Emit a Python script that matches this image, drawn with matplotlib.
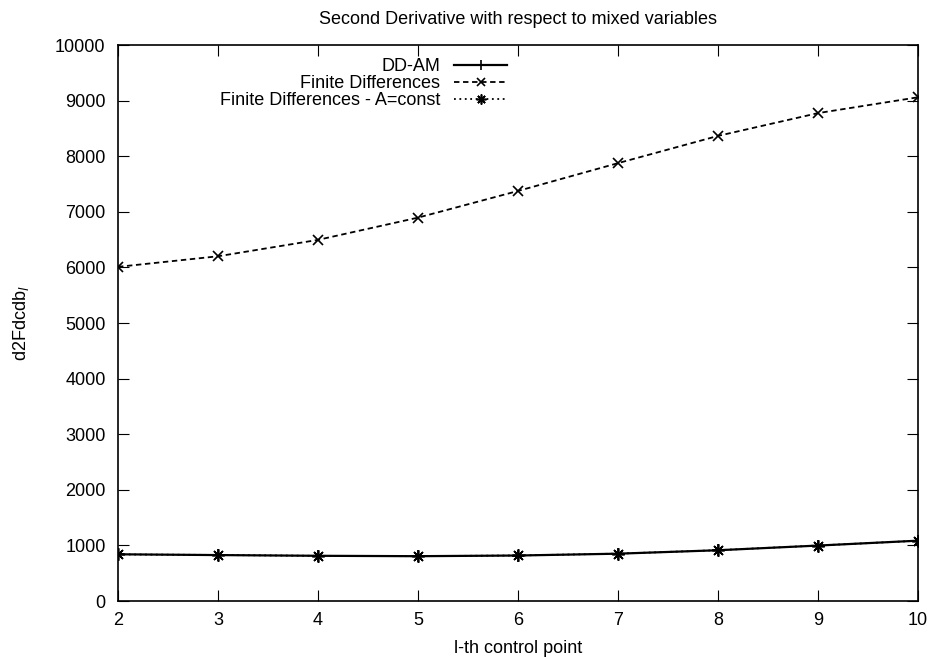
import numpy as np
import matplotlib.pyplot as plt

plt.rcParams['font.family'] = ['Liberation Sans', 'DejaVu Sans']

points = [2, 3, 4, 5, 6, 7, 8, 9, 10]
dd_am = [840, 826, 813, 806, 818, 851, 913, 997, 1085]
finite_diff = [6010, 6200, 6495, 6895, 7375, 7875, 8365, 8775, 9060]
finite_diff_const = [838, 828, 812, 806, 819, 852, 914, 998, 1084]

fig = plt.figure(figsize=(9.3, 6.59), dpi=100)
ax = fig.add_axes([118/930, 1 - 601/659, 800/930, 556/659])

ax.plot(points, dd_am, color='black', lw=1.6, marker='+', ms=9, mew=1.2, label='DD-AM')
ax.plot(points, finite_diff, color='black', lw=1.3, ls=(0, (3, 2)), marker='x', ms=7, mew=1.2,
        label='Finite Differences')
ax.plot(points, finite_diff_const, color='black', lw=1.3, ls=(0, (1, 2)), marker=(8, 2, 0), ms=9, mew=1.2,
        label='Finite Differences - A=const')

ax.set_xlim(2, 10)
ax.set_ylim(0, 10000)
ax.set_xticks(range(2, 11))
ax.set_yticks(range(0, 10001, 1000))
ax.tick_params(direction='in', top=True, right=True, length=8, labelsize=13)
ax.tick_params(axis='y', pad=9)
ax.tick_params(axis='x', pad=8)
for s in ax.spines.values():
    s.set_linewidth(1.2)

ax.set_title('Second Derivative with respect to mixed variables', fontsize=13, pad=14.8)
ax.set_xlabel('l-th control point', fontsize=13, labelpad=8)
ax.set_ylabel('d2Fdcdb$_l$', fontsize=13, labelpad=17)

ax.legend(loc='upper right', bbox_to_anchor=(0.486, 0.976), frameon=False, markerfirst=False,
          fontsize=13, handlelength=2.9, handletextpad=0.8, labelspacing=0.0, numpoints=1,
          markerscale=0.8, borderpad=0, borderaxespad=0)

fig.savefig('out.png', dpi=100)
